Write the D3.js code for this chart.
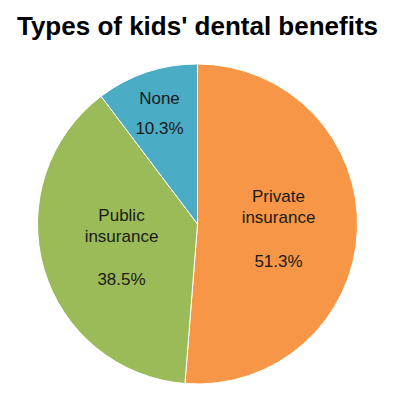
<!DOCTYPE html>
<html>
<head>
<meta charset="utf-8">
<script src="https://cdn.jsdelivr.net/npm/d3@7"></script>
<style>
  body { margin: 0; background: #fff; }
  text { font-family: "Liberation Sans", Arial, sans-serif; }
</style>
</head>
<body>
<svg></svg>
<script>
var categories = ["Private insurance", "Public insurance", "None"];
var labelLines = [["Private", "insurance"], ["Public", "insurance"], ["None"]];
var values = [51.3, 38.5, 10.3];
var colors = ["#F79646", "#9BBB59", "#4BACC6"];

var svgWidth = 400, svgHeight = 395;
var cx = 197.5, cy = 224, radius = 160;

var svg = d3.select("svg")
    .attr("width", svgWidth)
    .attr("height", svgHeight);

/* title */
svg.append("text")
    .attr("x", 197.5)
    .attr("y", 35)
    .attr("text-anchor", "middle")
    .style("font-size", "26px")
    .style("font-weight", "bold")
    .attr("fill", "#000")
    .text("Types of kids' dental benefits");

var data = categories.map(function(c, i){
  return {name: c, value: values[i], lines: labelLines[i], color: colors[i]};
});

var pie = d3.pie().sort(null).value(function(d){ return d.value; });
var arc = d3.arc().innerRadius(0).outerRadius(radius);

var g = svg.append("g").attr("transform", translate(cx, cy));

var arcs = pie(data);

g.selectAll("path")
    .data(arcs)
    .enter()
    .append("path")
    .attr("d", arc)
    .attr("fill", function(d){ return d.data.color; })
    .attr("stroke", "#fff")
    .attr("stroke-width", 1);

// label position relative to centre: name lines, then gap, then percent
var labelPos = [[81, -22], [-76, -3], [-38, -120]];
var pctGap = [44, 43, 30];

arcs.forEach(function(d, i){
  var p = labelPos[i];
  var t = g.append("text")
      .attr("text-anchor", "middle")
      .attr("fill", "#1a1a1a")
      .style("font-size", "17px");
  d.data.lines.forEach(function(line, j){
    t.append("tspan")
        .attr("x", p[0])
        .attr("y", p[1] + j * 21)
        .text(line);
  });
  var lastY = p[1] + (d.data.lines.length - 1) * 21;
  t.append("tspan")
      .attr("x", p[0])
      .attr("y", lastY + pctGap[i])
      .text(d.data.value.toFixed(1) + "%");
});

function translate(x, y) {
  return "translate(" + x + "," + y + ")";
}
</script>
</body>
</html>
